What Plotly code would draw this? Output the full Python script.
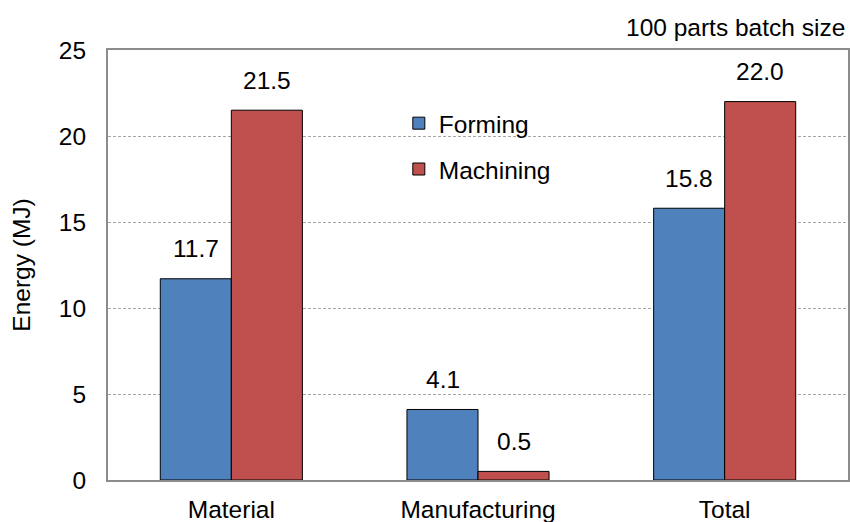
import plotly.graph_objects as go

categories = ["Material", "Manufacturing", "Total"]
forming = [11.7, 4.1, 15.8]
machining = [21.5, 0.5, 22.0]
y_ticks = [0, 5, 10, 15, 20, 25]

FONT = "Liberation Sans, Arial, sans-serif"
FS = 24.5
BLUE = "#4F81BD"
RED = "#C0504D"

fig = go.Figure()
fig.add_trace(go.Bar(
    x=categories, y=forming, name="Forming", legendgroup="f",
    marker=dict(color=BLUE, line=dict(color="black", width=1)),
))
fig.add_trace(go.Bar(
    x=categories, y=machining, name="Machining", legendgroup="m",
    marker=dict(color=RED, line=dict(color="black", width=1)),
))

# value labels above each bar
half_bar = 35.5
for series, shift in ((forming, -half_bar), (machining, half_bar)):
    for cat, val in zip(categories, series):
        fig.add_annotation(
            x=cat, y=val, xref="x", yref="y", text=f"{val:.1f}",
            showarrow=False, xshift=shift, yshift=30, yanchor="middle",
            font=dict(family=FONT, size=FS, color="black"),
        )

fig.add_annotation(
    x=1, y=1, xref="paper", yref="paper", xanchor="right", yanchor="middle",
    yshift=23, xshift=-1, showarrow=False, text="100 parts batch size",
    font=dict(family=FONT, size=FS, color="black"),
)

# white backing behind the legend, breaking the gridline like the legend box
fig.add_shape(
    type="rect", xref="paper", yref="paper", x0=0.372, x1=0.626,
    y0=0.68, y1=0.90, fillcolor="white", line=dict(width=0), layer="between",
)

fig.update_layout(
    width=850, height=522,
    margin=dict(l=108, r=2, t=50, b=42),
    paper_bgcolor="white", plot_bgcolor="white",
    barmode="group", bargap=0.424, bargroupgap=0,
    font=dict(family=FONT, size=FS, color="black"),
    showlegend=True,
    legend=dict(
        x=0.393, y=0.882, xanchor="left", yanchor="top",
        bgcolor="rgba(0,0,0,0)", borderwidth=0,
        traceorder="grouped", tracegroupgap=11,
        font=dict(family=FONT, size=FS, color="black"),
        itemwidth=30,
    ),
)

fig.update_xaxes(
    showline=True, linecolor="#8c8c8c", linewidth=2, mirror=True,
    showgrid=False, ticks="", ticklabelstandoff=7, automargin=False,
    tickfont=dict(family=FONT, size=FS, color="black"),
)
fig.update_yaxes(
    range=[0, 25], tickvals=y_ticks, showline=True, linecolor="#8c8c8c",
    linewidth=2, mirror=True, showgrid=True, gridcolor="#a6a6a6",
    gridwidth=1, griddash="3px,2px", zeroline=False, ticks="",
    ticklabelstandoff=15, automargin=False,
    tickfont=dict(family=FONT, size=FS, color="black"),
    title=dict(text="Energy (MJ)", standoff=21,
               font=dict(family=FONT, size=FS, color="black")),
)

fig.write_html("out.html")
